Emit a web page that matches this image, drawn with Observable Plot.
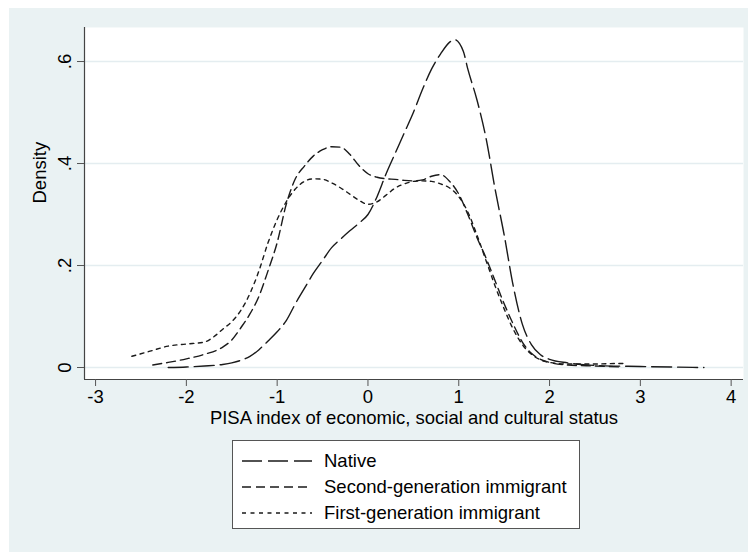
<!DOCTYPE html>
<html><head><meta charset="utf-8">
<script src="https://cdn.jsdelivr.net/npm/d3@7"></script>
<script src="https://cdn.jsdelivr.net/npm/@observablehq/plot@0.6"></script>
<style>
body{margin:0;background:#fff;font-family:"Liberation Sans",Arial,Helvetica,sans-serif;}
#wrap{position:relative;width:748px;height:552px;overflow:hidden;}
#bg{position:absolute;left:9px;top:8px;right:0;bottom:0;background:#eaf2f3;}
#chart{position:absolute;left:0;top:0;}
#legend{position:absolute;left:232px;top:440px;width:346px;height:87px;background:#fff;border:1px solid #555;}
.row{position:absolute;left:0;height:24px;line-height:24px;font-size:18.5px;color:#000;white-space:nowrap;}
.row svg{position:absolute;left:9px;top:0;}
.row span{position:absolute;left:91px;top:0;}
</style></head>
<body><div id="wrap"><div id="bg"></div><div id="chart"></div><div id="legend"></div></div>
<script>
const seriesNames = ["Native", "Second-generation immigrant", "First-generation immigrant"];
const seriesDash = ["20,6", "9,5", "4,4.5"];

const nativeX = [-2.2,-2.0,-1.8,-1.6,-1.5,-1.4,-1.3,-1.2,-1.1,-1.0,-0.9,-0.8,-0.7,-0.6,-0.5,-0.4,-0.3,-0.2,-0.1,0.0,0.1,0.2,0.3,0.4,0.5,0.6,0.7,0.8,0.9,0.95,1.05,1.1,1.2,1.3,1.4,1.5,1.6,1.7,1.8,1.9,2.0,2.2,2.5,3.0,3.7];
const nativeY = [0.0,0.001,0.003,0.006,0.009,0.014,0.022,0.035,0.052,0.07,0.092,0.125,0.155,0.185,0.21,0.235,0.252,0.268,0.283,0.30,0.335,0.38,0.42,0.46,0.50,0.545,0.585,0.615,0.638,0.643,0.62,0.585,0.525,0.45,0.35,0.26,0.16,0.085,0.045,0.025,0.016,0.009,0.004,0.002,0.0];

const secondX = [-2.37,-2.2,-2.0,-1.8,-1.6,-1.5,-1.4,-1.3,-1.2,-1.1,-1.0,-0.9,-0.8,-0.7,-0.6,-0.5,-0.4,-0.3,-0.2,-0.1,0.0,0.1,0.2,0.3,0.4,0.5,0.6,0.7,0.8,0.9,1.0,1.1,1.2,1.3,1.4,1.5,1.6,1.7,1.8,1.9,2.0,2.2,2.5,2.8];
const secondY = [0.005,0.01,0.017,0.026,0.04,0.054,0.078,0.105,0.14,0.19,0.245,0.32,0.37,0.395,0.415,0.427,0.433,0.432,0.418,0.396,0.38,0.373,0.37,0.369,0.367,0.366,0.368,0.375,0.378,0.365,0.34,0.30,0.255,0.215,0.17,0.125,0.085,0.05,0.028,0.016,0.01,0.005,0.003,0.001];

const firstX = [-2.6,-2.4,-2.2,-2.0,-1.8,-1.7,-1.6,-1.5,-1.4,-1.3,-1.2,-1.1,-1.0,-0.9,-0.8,-0.7,-0.6,-0.5,-0.4,-0.3,-0.2,-0.1,0.0,0.1,0.2,0.3,0.4,0.5,0.6,0.7,0.8,0.9,1.0,1.1,1.2,1.3,1.4,1.5,1.6,1.7,1.8,1.9,2.0,2.2,2.5,2.8,2.85];
const firstY = [0.022,0.032,0.042,0.046,0.05,0.06,0.075,0.09,0.112,0.145,0.19,0.245,0.29,0.325,0.35,0.365,0.37,0.369,0.362,0.352,0.34,0.328,0.32,0.325,0.338,0.352,0.36,0.365,0.366,0.365,0.36,0.352,0.335,0.305,0.26,0.21,0.16,0.115,0.075,0.045,0.026,0.015,0.01,0.007,0.007,0.008,0.007];

const xTicks = [-3,-2,-1,0,1,2,3,4];
const xTickLabels = ["-3","-2","-1","0","1","2","3","4"];
const yTicks = [0,0.2,0.4,0.6];
const yTickLabels = ["0",".2",".4",".6"];
const xTitle = "PISA index of economic, social and cultural status";
const yTitle = "Density";

const xDomain = [-3.122, 4.136];
const yDomain = [-0.0235, 0.6667];

const toRows = (xs, ys) => xs.map((x, i) => ({x, y: ys[i]}));
const seriesData = [toRows(nativeX, nativeY), toRows(secondX, secondY), toRows(firstX, firstY)];

const chart = Plot.plot({
  width: 748, height: 440,
  marginLeft: 84, marginRight: 5, marginTop: 27, marginBottom: 61,
  style: {background: "transparent", fontFamily: "'Liberation Sans', Arial, Helvetica, sans-serif", fontSize: "18.5px", color: "#000"},
  x: {domain: xDomain},
  y: {domain: yDomain},
  marks: [
    Plot.frame({fill: "white", stroke: "none"}),
    Plot.gridY(yTicks, {stroke: "#e4edf0", strokeOpacity: 1, strokeWidth: 1.6}),
    Plot.ruleX([xDomain[0]], {stroke: "#444", strokeWidth: 1.2}),
    Plot.ruleY([yDomain[0]], {stroke: "#444", strokeWidth: 1.2}),
    Plot.axisX(xTicks, {tickSize: 7, tickPadding: 3, stroke: "#555", fill: "#000", fontSize: 18.5, label: null,
      tickFormat: (d) => xTickLabels[xTicks.indexOf(d)]}),
    Plot.axisY(yTicks, {tickSize: 7, tickPadding: 7, tickRotate: -90, stroke: "#555", fill: "#000", fontSize: 18.5, label: null,
      tickFormat: (d) => yTickLabels[yTicks.indexOf(d)]}),
    Plot.text([xTitle], {text: (d) => d, frameAnchor: "bottom", dy: 44, fontSize: 18.5, fill: "#000"}),
    Plot.text([yTitle], {text: (d) => d, frameAnchor: "left", dx: -44, rotate: -90, fontSize: 18.5, fill: "#000"}),
    ...seriesData.map((data, i) => Plot.line(data, {x: "x", y: "y", curve: "monotone-x", stroke: "#1a1a1a", strokeWidth: 1.4, strokeDasharray: seriesDash[i]}))
  ]
});
document.getElementById("chart").appendChild(chart);

const legend = document.getElementById("legend");
const rowTops = [8, 34, 60];
seriesNames.forEach((name, i) => {
  const row = document.createElement("div");
  row.className = "row";
  row.style.top = rowTops[i] + "px";
  row.innerHTML = `<svg width="72" height="24"><line x1="0" y1="12" x2="70" y2="12" stroke="#1a1a1a" stroke-width="1.6" stroke-dasharray="${seriesDash[i]}"/></svg><span>${name}</span>`;
  legend.appendChild(row);
});
</script>
</body></html>
